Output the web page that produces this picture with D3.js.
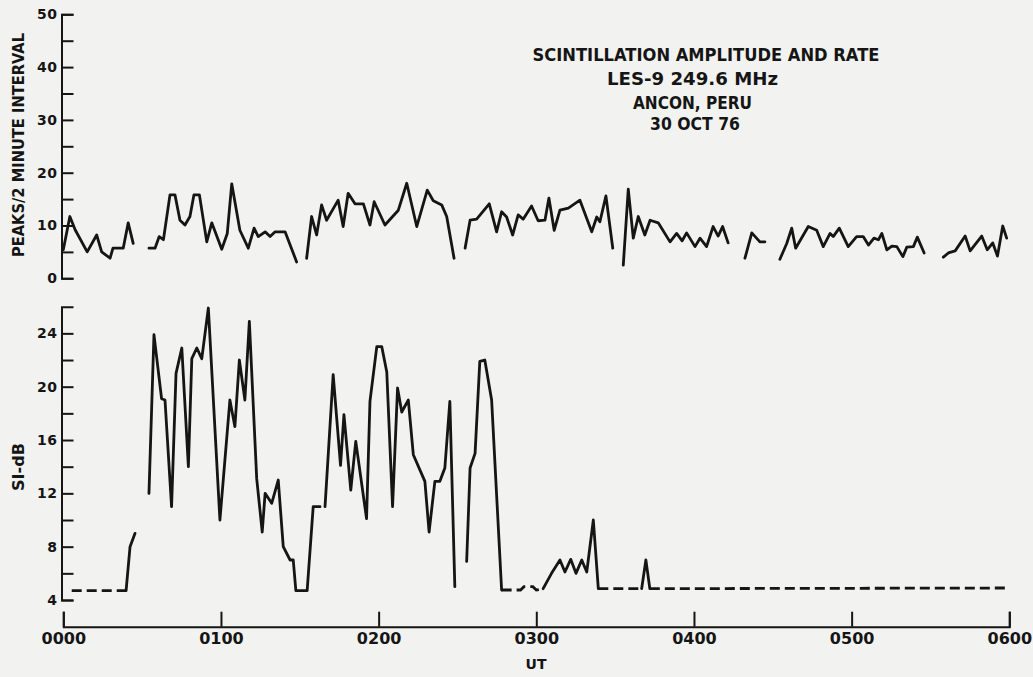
<!DOCTYPE html>
<html>
<head>
<meta charset="utf-8">
<script src="https://cdn.jsdelivr.net/npm/d3@7"></script>
<style>
  html, body { margin: 0; padding: 0; background: #f2f2f0; }
  svg { display: block; }
  text { font-family: "DejaVu Sans", sans-serif; font-weight: bold; fill: #151515; }
</style>
</head>
<body>
<svg id="chart" width="1033" height="677"></svg>
<script>
// Universal time axis, minutes after 0000 UT
const utTicks = [0, 60, 120, 180, 240, 300, 360];
const utLabels = ["0000", "0100", "0200", "0300", "0400", "0500", "0600"];

// Y-axis ticks (labels only on the major ones)
const peakTicks = [0, 5, 10, 15, 20, 25, 30, 35, 40, 45, 50];
const peakLabels = [0, 10, 20, 30, 40, 50];
const siTicks = [4, 6, 8, 10, 12, 14, 16, 18, 20, 22, 24];
const siLabels = [4, 8, 12, 16, 20, 24];

// Scintillation rate: peaks per 2-minute interval  [minute, peaks]; null = data gap
const peakRate = [
  [0, 5.4], [2.5, 11.7], [4.5, 9.2], [9.1, 5.0], [12.7, 8.2], [14.6, 5.0], [17.8, 3.8], [18.9, 5.7],
  [22.8, 5.7], [24.7, 10.5], [26.6, 6.6],
  null,
  [32.6, 5.7], [34.9, 5.7], [36.5, 7.9], [38.1, 7.3], [40.6, 15.8], [42.5, 15.8], [44.4, 11.0],
  [46.3, 10.1], [48.2, 11.7], [49.7, 15.8], [51.8, 15.8], [54.6, 6.9], [56.5, 10.5], [60.3, 5.5],
  [62.4, 8.5], [64.1, 17.9], [67.2, 9.1], [70.4, 5.7], [72.6, 9.5], [74.2, 7.9], [76.8, 8.8],
  [78.7, 7.9], [80.6, 8.8], [84.4, 8.8], [88.8, 3.1],
  null,
  [92.6, 3.8], [94.5, 11.7], [96.4, 8.2], [98.3, 13.9], [100.2, 11.0], [104.6, 14.8], [106.5, 9.8],
  [108.4, 16.1], [111.0, 14.1], [114.2, 14.1], [116.7, 10.1], [118.3, 14.5], [122.4, 10.1],
  [127.5, 12.9], [130.7, 18.0], [134.5, 9.8], [138.5, 16.7], [140.8, 14.7], [144.0, 13.9],
  [145.9, 11.7], [148.7, 3.8],
  null,
  [152.9, 5.7], [154.8, 11.0], [157.3, 11.2], [162.1, 14.1], [164.9, 8.8], [166.8, 12.6],
  [168.7, 11.6], [171.0, 8.2], [173.1, 12.0], [175.0, 11.2], [178.2, 13.7], [180.7, 10.9],
  [183.3, 11.0], [184.8, 15.2], [186.8, 9.1], [189.0, 12.9], [192.2, 13.3], [196.6, 14.8],
  [201.1, 8.8], [203.0, 11.6], [204.2, 10.7], [206.5, 15.6], [209.1, 5.7],
  null,
  [213.1, 2.5], [215.0, 16.9], [216.9, 7.6], [218.8, 11.7], [221.3, 8.2], [223.3, 11.0],
  [226.4, 10.5], [230.9, 6.9], [233.4, 8.5], [235.5, 7.1], [237.2, 8.6], [240.4, 6.0],
  [242.3, 7.6], [244.8, 6.0], [247.3, 9.8], [249.2, 8.0], [250.9, 9.8], [253.0, 6.7],
  null,
  [259.4, 3.8], [262.0, 8.6], [265.1, 6.9], [267.0, 6.9],
  null,
  [272.7, 3.6], [275.3, 6.6], [277.2, 9.5], [278.7, 5.7], [283.5, 9.8], [286.7, 9.1], [289.2, 6.0],
  [291.8, 8.5], [293.0, 7.9], [295.3, 9.5], [298.7, 6.0], [301.9, 7.9], [304.4, 7.9], [306.4, 6.3],
  [308.5, 7.6], [310.2, 7.3], [311.5, 8.5], [313.4, 5.4], [315.3, 6.1], [317.2, 6.0], [319.5, 4.1],
  [321.0, 5.9], [323.5, 6.0], [325.0, 7.8], [327.6, 4.8],
  null,
  [334.9, 4.0], [336.8, 4.8], [339.4, 5.2], [343.2, 8.0], [345.1, 5.2], [349.5, 8.0], [351.6, 5.4],
  [353.7, 6.7], [355.5, 4.2], [357.5, 9.9], [359.0, 7.6]
];

// Scintillation amplitude, SI in dB  [minute, dB]; null = data gap
const siAmplitude = [
  [23.9, 4.7], [25.4, 8.0], [27.3, 9.0],
  null,
  [32.6, 12.0], [34.5, 23.9], [37.4, 19.1], [38.7, 19.0], [41.2, 11.0], [42.9, 21.0], [45.1, 22.9],
  [47.6, 14.0], [48.9, 22.1], [50.8, 22.9], [52.7, 22.1], [55.2, 25.9], [59.6, 10.0], [63.4, 19.0],
  [65.3, 17.0], [67.0, 22.0], [69.1, 19.0], [70.8, 24.9], [73.6, 13.1], [75.7, 9.1], [76.8, 12.0],
  [79.3, 11.25], [81.8, 13.0], [83.7, 8.0], [86.3, 7.0], [87.5, 7.0], [88.5, 4.7], [92.8, 4.7],
  [95.1, 11.0], [97.7, 11.0],
  null,
  [99.6, 11.0], [102.7, 20.9], [105.5, 14.1], [106.8, 17.9], [109.4, 12.25], [111.3, 15.9],
  [115.4, 10.1], [116.7, 18.9], [119.3, 23.0], [121.2, 23.0], [123.1, 21.1], [125.3, 11.0],
  [127.2, 19.9], [128.8, 18.1], [131.3, 19.0], [133.2, 14.9], [137.6, 12.9], [139.2, 9.1],
  [141.4, 12.9], [143.3, 12.9], [145.2, 13.9], [147.1, 18.9], [149.0, 5.0],
  null,
  [153.5, 6.9], [154.8, 13.9], [156.7, 15.0], [158.5, 21.9], [160.4, 22.0], [163.0, 19.0], [166.8, 4.75],
  null,
  [182.6, 4.85], [185.8, 6.0], [189.0, 7.0], [190.9, 6.1], [193.1, 7.05], [195.1, 6.0], [197.3, 7.0],
  [199.2, 6.1], [201.7, 10.0], [203.6, 4.85],
  null,
  [220.1, 4.85], [221.7, 7.0], [223.2, 4.85]
];

// Receiver noise floor (dashed) where no scintillation was measurable
const siNoiseFloor = [
  [3.2, 4.7], [23.9, 4.7],
  null,
  [166.8, 4.75], [174.0, 4.75], [175.3, 5.0], [178.7, 5.0], [180.0, 4.75], [182.6, 4.85],
  null,
  [203.6, 4.85], [220.1, 4.85],
  null,
  [223.2, 4.85], [359.1, 4.9]
];

const titleLines = ["SCINTILLATION AMPLITUDE AND RATE", "LES-9  249.6 MHz", "ANCON, PERU", "30 OCT 76"];

const ink = "#151515";
const svg = d3.select("#chart");

svg.append("rect").attr("width", 1033).attr("height", 677).attr("fill", "#f2f2f0");

const x = d3.scaleLinear().domain([0, 360]).range([63.3, 1009.3]);
const yPeak = d3.scaleLinear().domain([0, 50]).range([278.3, 14.3]);
const ySi = d3.scaleLinear().domain([4, 26]).range([600, 306.7]);
const yAxisX = 61.5;

function styleAxis(g, fontSize, spacing) {
  g.attr("font-family", null).attr("font-size", null);
  g.select(".domain").attr("stroke", ink).attr("stroke-width", 2).attr("fill", "none");
  g.selectAll(".tick line").attr("stroke", ink).attr("stroke-width", 2);
  g.selectAll(".tick text").style("font-size", fontSize + "px").style("letter-spacing", spacing + "px").attr("fill", ink);
}

// Peaks per interval axis
svg.append("g")
  .attr("transform", `translate(${yAxisX},0)`)
  .call(d3.axisLeft(yPeak).tickValues(peakTicks)
    .tickFormat(d => peakLabels.includes(d) ? d : "")
    .tickSize(-12).tickSizeOuter(-12).tickPadding(4))
  .call(g => styleAxis(g, 14, 0.5));

// SI axis
svg.append("g")
  .attr("transform", `translate(${yAxisX},0)`)
  .call(d3.axisLeft(ySi).tickValues(siTicks)
    .tickFormat(d => siLabels.includes(d) ? d : "")
    .tickSize(-12).tickSizeOuter(-12).tickPadding(4))
  .call(g => styleAxis(g, 14, 0.5));

// UT axis
svg.append("g")
  .attr("transform", "translate(0,626.7)")
  .call(d3.axisBottom(x).tickValues(utTicks)
    .tickFormat((d, i) => utLabels[i])
    .tickSize(-15).tickSizeOuter(-15).tickPadding(6))
  .call(g => styleAxis(g, 16, 0));

// Data lines
const linePeak = d3.line().defined(d => d !== null).x(d => x(d[0])).y(d => yPeak(d[1]));
const lineSi = d3.line().defined(d => d !== null).x(d => x(d[0])).y(d => ySi(d[1]));

svg.append("path").datum(peakRate).attr("d", linePeak)
  .attr("fill", "none").attr("stroke", ink).attr("stroke-width", 2.8)
  .attr("stroke-linejoin", "round").attr("stroke-linecap", "round");

svg.append("path").datum(siAmplitude).attr("d", lineSi)
  .attr("fill", "none").attr("stroke", ink).attr("stroke-width", 2.8)
  .attr("stroke-linejoin", "round").attr("stroke-linecap", "round");

svg.append("path").datum(siNoiseFloor).attr("d", lineSi)
  .attr("fill", "none").attr("stroke", ink).attr("stroke-width", 2.8)
  .attr("stroke-dasharray", "10,5");

// Axis titles
svg.append("text")
  .attr("transform", "translate(18.5,145) rotate(-90)")
  .attr("text-anchor", "middle").attr("dominant-baseline", "central")
  .attr("textLength", 224).attr("lengthAdjust", "spacingAndGlyphs")
  .style("font-size", "15px")
  .text("PEAKS/2 MINUTE INTERVAL");

svg.append("text")
  .attr("transform", "translate(18.5,467) rotate(-90)")
  .attr("text-anchor", "middle").attr("dominant-baseline", "central")
  .attr("textLength", 48).attr("lengthAdjust", "spacingAndGlyphs")
  .style("font-size", "15px")
  .text("SI-dB");

svg.append("text")
  .attr("x", 536).attr("y", 669)
  .attr("text-anchor", "middle")
  .style("font-size", "14px")
  .text("UT");

// Title block
const titleX = [706, 692.5, 692.5, 695];
const titleY = [60.7, 85, 109, 130];
const titleLen = [347, 171, 119, 90];
svg.append("g").selectAll("text").data(titleLines).join("text")
  .attr("x", (d, i) => titleX[i]).attr("y", (d, i) => titleY[i])
  .attr("text-anchor", "middle")
  .attr("textLength", (d, i) => titleLen[i]).attr("lengthAdjust", "spacingAndGlyphs")
  .style("font-size", "17px")
  .text(d => d);
</script>
</body>
</html>
